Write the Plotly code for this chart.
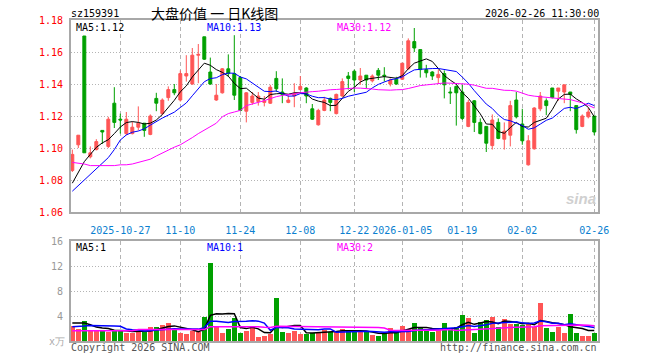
import plotly.graph_objects as go

# ---------------- data ----------------
opens = [1.086, 1.102, 1.170, 1.0945, 1.099, 1.111, 1.101, 1.128, 1.118, 1.109,
         1.109, 1.113, 1.1155, 1.1085, 1.131, 1.1215, 1.1315, 1.1365, 1.130, 1.145,
         1.140, 1.158, 1.1695, 1.1475, 1.130, 1.1345, 1.1495, 1.1465, 1.144, 1.123,
         1.1285, 1.129, 1.1285, 1.128, 1.1435, 1.135, 1.1285, 1.1325, 1.1365, 1.1375,
         1.1245, 1.1145, 1.1235, 1.131, 1.1215, 1.1325, 1.145, 1.148, 1.1425, 1.1455,
         1.142, 1.1485, 1.1455, 1.140, 1.143, 1.143, 1.1495, 1.1665, 1.1615, 1.149,
         1.1475, 1.144, 1.1465, 1.135, 1.1385, 1.135, 1.1135, 1.1295, 1.116, 1.1135,
         1.1015, 1.116, 1.1055, 1.108, 1.130, 1.115, 1.0895, 1.0995, 1.1245, 1.1295,
         1.1375, 1.1355, 1.135, 1.135, 1.1265, 1.1135, 1.1195, 1.120]
highs = [1.099, 1.108, 1.170, 1.101, 1.1055, 1.111, 1.1195, 1.138, 1.1215, 1.1225,
         1.1165, 1.126, 1.1155, 1.121, 1.1345, 1.131, 1.1385, 1.140, 1.1485, 1.158,
         1.1625, 1.165, 1.1695, 1.1565, 1.140, 1.150, 1.1585, 1.1705, 1.145, 1.135,
         1.135, 1.135, 1.1325, 1.1395, 1.148, 1.1435, 1.133, 1.1405, 1.145, 1.138,
         1.1275, 1.1245, 1.132, 1.1315, 1.134, 1.1435, 1.1475, 1.149, 1.150, 1.1455,
         1.146, 1.150, 1.1505, 1.1435, 1.1445, 1.153, 1.1685, 1.175, 1.1615, 1.152,
         1.148, 1.149, 1.1485, 1.138, 1.139, 1.1395, 1.130, 1.130, 1.1185, 1.1135,
         1.121, 1.1185, 1.116, 1.1295, 1.135, 1.1245, 1.108, 1.1255, 1.135, 1.131,
         1.1375, 1.1375, 1.1395, 1.135, 1.1265, 1.121, 1.125, 1.120]
lows = [1.085, 1.100, 1.097, 1.0935, 1.0985, 1.1025, 1.100, 1.1125, 1.109, 1.108,
        1.1085, 1.111, 1.107, 1.108, 1.123, 1.1205, 1.1295, 1.133, 1.129, 1.1415,
        1.1395, 1.1405, 1.155, 1.1395, 1.1295, 1.134, 1.1445, 1.130, 1.1235, 1.116,
        1.127, 1.1265, 1.126, 1.1275, 1.135, 1.128, 1.128, 1.1255, 1.136, 1.128,
        1.1175, 1.114, 1.123, 1.123, 1.121, 1.132, 1.1365, 1.135, 1.1395, 1.1375,
        1.141, 1.1425, 1.1415, 1.1385, 1.1395, 1.1425, 1.149, 1.160, 1.144, 1.144,
        1.1425, 1.140, 1.131, 1.1275, 1.114, 1.1175, 1.113, 1.110, 1.1085, 1.0975,
        1.099, 1.1055, 1.099, 1.101, 1.1185, 1.102, 1.089, 1.099, 1.123, 1.1205,
        1.131, 1.1295, 1.128, 1.123, 1.109, 1.113, 1.1185, 1.108]
closes = [1.096, 1.108, 1.097, 1.097, 1.104, 1.110, 1.118, 1.116, 1.1175, 1.118,
          1.113, 1.1155, 1.111, 1.120, 1.128, 1.130, 1.1365, 1.1345, 1.1465, 1.1465,
          1.158, 1.1585, 1.1555, 1.140, 1.133, 1.1495, 1.1465, 1.133, 1.1235, 1.1345,
          1.1325, 1.1325, 1.1295, 1.138, 1.137, 1.1335, 1.130, 1.134, 1.1385, 1.1325,
          1.118, 1.1235, 1.130, 1.1285, 1.1335, 1.1415, 1.1435, 1.1425, 1.145, 1.1425,
          1.145, 1.1455, 1.145, 1.1425, 1.140, 1.153, 1.167, 1.1625, 1.149, 1.147,
          1.145, 1.146, 1.1395, 1.1345, 1.1345, 1.1185, 1.1285, 1.116, 1.109, 1.103,
          1.1175, 1.106, 1.1105, 1.1265, 1.1195, 1.1045, 1.1045, 1.125, 1.1325, 1.1265,
          1.1315, 1.1375, 1.1395, 1.1335, 1.1115, 1.120, 1.1225, 1.110]
volumes = [2.4, 2.0, 3.2, 1.76, 1.76, 1.76, 1.5, 1.76, 1.76, 1.33,
           1.33, 1.5, 1.5, 2.3, 2.3, 2.56, 2.93, 2.0, 1.33, 1.12,
           1.6, 1.39, 3.9, 12.5, 2.4, 1.33, 1.92, 3.73, 1.33, 1.6,
           2.4, 0.64, 0.8, 1.12, 6.88, 1.44, 1.28, 1.6, 1.12, 1.12,
           1.28, 1.44, 1.76, 1.44, 1.6, 1.92, 1.76, 1.5, 1.44, 1.44,
           0.96, 0.8, 1.33, 2.08, 1.44, 2.4, 1.92, 2.88, 2.1, 1.6,
           1.5, 1.76, 2.88, 1.92, 2.24, 4.16, 3.68, 1.33, 3.04, 3.36,
           3.84, 2.24, 3.52, 2.72, 2.72, 2.56, 2.72, 2.24, 6.08, 2.08,
           1.44, 2.24, 1.28, 4.32, 1.28, 0.8, 0.8, 1.28]

# moving-average values before enough in-window history exists
ma5_head = [1.078, 1.085, 1.0915, 1.096]
ma10_head = [1.073, 1.0765, 1.0795, 1.083, 1.0865, 1.090, 1.094, 1.099, 1.105]
ma30_head = [1.091, 1.0905, 1.090, 1.089, 1.089, 1.089, 1.089, 1.089, 1.0895, 1.0895,
             1.090, 1.091, 1.092, 1.093, 1.095, 1.097, 1.099, 1.1005, 1.102, 1.104,
             1.1065, 1.109, 1.111, 1.1135, 1.1155, 1.1195, 1.1215, 1.1225, 1.1235]
vma5_head = [2.9, 2.9, 2.9, 2.6]
vma10_head = [2.3, 2.3, 2.4, 2.5, 2.5, 2.45, 2.4, 2.4, 2.35]
vma30_head = [1.65, 1.65, 1.65, 1.65, 1.65, 1.65, 1.65, 1.65, 1.65, 1.65, 1.65,
              1.85, 1.85, 1.85, 1.85, 1.85, 1.85, 1.85, 1.85, 1.85, 1.85, 1.85, 1.85,
              2.3, 2.3, 2.3, 2.3, 2.3, 2.3]

tick_index = [8, 18, 28, 38, 47, 55, 65, 75, 87]
tick_labels = ["2025-10-27", "11-10", "11-24", "12-08", "12-22", "2026-01-05",
               "01-19", "02-02", "02-26"]
price_ticks = [1.06, 1.08, 1.10, 1.12, 1.14, 1.16, 1.18]
vol_ticks = [4, 8, 12, 16]

code = "sz159391"
title = "大盘价值 一 日K线图"
stamp = "2026-02-26 11:30:00"
ma_texts = ["MA5:1.12", "MA10:1.13", "MA30:1.12"]
vma_texts = ["MA5:1", "MA10:1", "MA30:2"]

# ---------------- helpers ----------------
def moving(values, n, head):
    out = []
    for i in range(len(values)):
        if i < len(head):
            out.append(head[i])
        else:
            out.append(sum(values[i - n + 1:i + 1]) / n)
    return out

idx = list(range(len(closes)))
UP = "#ff5555"
DN = "#00a000"
colors = [UP if c >= o else DN for o, c in zip(opens, closes)]
MONO = "DejaVu Sans Mono"
GRID = "#b4b4b4"

fig = go.Figure()
fig.add_trace(go.Candlestick(
    x=idx, open=opens, high=highs, low=lows, close=closes,
    increasing=dict(line=dict(color=UP, width=1), fillcolor=UP),
    decreasing=dict(line=dict(color=DN, width=1), fillcolor=DN),
    hoverinfo="skip", xaxis="x", yaxis="y"))
for n, head, col in [(5, ma5_head, "#000000"), (10, ma10_head, "#0000ff"),
                     (30, ma30_head, "#ff00ff")]:
    fig.add_trace(go.Scatter(x=idx, y=moving(closes, n, head), mode="lines",
                             line=dict(color=col, width=1), hoverinfo="skip",
                             xaxis="x", yaxis="y"))

fig.add_trace(go.Bar(x=idx, y=volumes, marker=dict(color=colors, line=dict(width=0)),
                     width=0.8, hoverinfo="skip", xaxis="x2", yaxis="y2"))
for n, head, col in [(5, vma5_head, "#000000"), (10, vma10_head, "#0000ff"),
                     (30, vma30_head, "#ff00ff")]:
    fig.add_trace(go.Scatter(x=idx, y=moving(volumes, n, head), mode="lines",
                             line=dict(color=col, width=1.5), hoverinfo="skip",
                             xaxis="x2", yaxis="y2"))

# geometry (pixels)
W, H = 660, 360
L, R, T, B = 71, 598, 20, 341
pw, ph = R - L, B - T
price_bottom = 212
vol_top = 241

def px(x):
    return (x - L) / pw

def py(y):
    return (B - y) / ph

xr = [-0.22, len(idx) - 1 + 0.62]
common_x = dict(range=xr, tickmode="array", tickvals=tick_index, showgrid=True,
                gridcolor=GRID, griddash="4px,3px", gridwidth=1, zeroline=False,
                showline=True, mirror=True, linecolor="#a8a8a8", linewidth=2,
                ticks="", automargin=False, fixedrange=True)
fig.update_layout(
    width=W, height=H, margin=dict(l=L, r=W - R, t=T, b=H - B),
    paper_bgcolor="white", plot_bgcolor="white", showlegend=False,
    bargap=0, hovermode=False,
    xaxis=dict(**common_x, anchor="y", ticktext=tick_labels,
               tickfont=dict(family=MONO, size=10, color="#0a7fd0"),
               ticklabelstandoff=8, rangeslider=dict(visible=False)),
    yaxis=dict(domain=[py(price_bottom), 1], range=[1.06, 1.18], tickmode="array",
               tickvals=price_ticks, ticktext=[f"{v:.2f}" for v in price_ticks],
               tickfont=dict(family=MONO, size=10, color="#ff0000"),
               showgrid=True, gridcolor=GRID, griddash="1px,2px", zeroline=False,
               showline=True, mirror=True, linecolor="#a8a8a8", linewidth=2,
               ticks="", ticklabelstandoff=4, automargin=False, fixedrange=True),
    xaxis2=dict(**common_x, anchor="y2", matches="x", showticklabels=False),
    yaxis2=dict(domain=[0, py(vol_top)], range=[0, 16], tickmode="array",
                tickvals=vol_ticks, ticktext=[str(v) for v in vol_ticks],
                tickfont=dict(family=MONO, size=10, color="#999999"),
                showgrid=True, gridcolor=GRID, griddash="1px,2px", zeroline=False,
                showline=True, mirror=True, linecolor="#a8a8a8", linewidth=2,
                ticks="", ticklabelstandoff=4, automargin=False, fixedrange=True),
)

def note(text, x, y, color="#000000", size=10, family=MONO, xanchor="left", **kw):
    fig.add_annotation(text=text, x=px(x), y=py(y), xref="paper", yref="paper",
                       xanchor=xanchor, yanchor="middle", showarrow=False,
                       font=dict(family=family, size=size, color=color), **kw)

note(code, 69, 13)
note(title, 149, 13, size=14, family="Noto Sans CJK SC")
note(stamp, 601, 13, xanchor="right")
for t, x, c in zip(ma_texts, [74, 205, 335], ["#000000", "#0000ff", "#ff00ff"]):
    note(t, x, 27, color=c)
for t, x, c in zip(vma_texts, [74, 205, 335], ["#000000", "#0000ff", "#ff00ff"]):
    note(t, x, 247, color=c)
note("Copyright 2026 SINA.COM", 69, 347, color="#555555")
note("http://finance.sina.com.cn", 599, 347, color="#555555", xanchor="right")
note("x万", 67, 342, color="#aaaaaa", xanchor="right")
note("<b><i>sina</i></b>", 598, 198, color="#d0d0d0", size=15, family="Liberation Sans",
     xanchor="right")

fig.write_html("out.html")
